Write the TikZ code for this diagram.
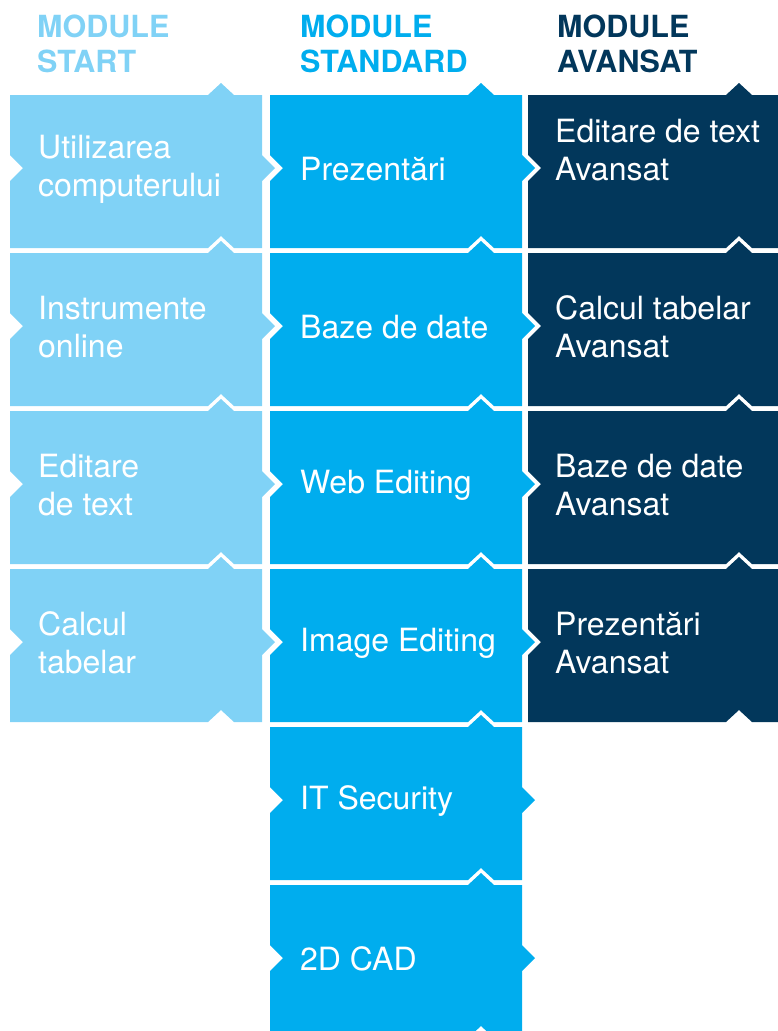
\documentclass[tikz,border=0pt]{standalone}
\usepackage{fontspec}
\setmainfont{TeX Gyre Heros}

\definecolor{startblue}{HTML}{80D2F6}
\definecolor{stdblue}{HTML}{00ADEE}
\definecolor{advblue}{HTML}{02375B}

% one puzzle piece: left, top, colour
\newcommand{\piece}[3]{%
  \fill[#3] (#1,#2) -- ++(198,0) -- ++(13,-12) -- ++(13,12) -- ++(28,0)
    -- ++(0,60) -- ++(13,13) -- ++(-13,13) -- ++(0,67)
    -- ++(-28,0) -- ++(-13,-12) -- ++(-13,12) -- ++(-198,0)
    -- ++(0,-67) -- ++(13,-13) -- ++(-13,-13) -- cycle;}

\begin{document}
\begin{tikzpicture}[x=1pt,y=-1pt,
  hdr/.style={anchor=north west, inner sep=0pt, align=left,
    font=\fontsize{30.5}{35}\selectfont\bfseries},
  lbl/.style={anchor=west, inner sep=0pt, align=left, text=white,
    font=\fontsize{32}{38}\selectfont}]
\useasboundingbox (0,0) rectangle (778,1031);
\clip (0,0) rectangle (778,1031);

% columns
\foreach \t in {95,253,411,569} \piece{10}{\t}{startblue};
\foreach \t in {95,253,411,569,727,885} \piece{270}{\t}{stdblue};
\foreach \t in {95,253,411,569} \piece{528}{\t}{advblue};

% headings
\node[hdr, text=startblue] (hstart) at (37,15) {MODULE\\START};
\node[hdr, text=stdblue]   (hstd)   at (300,15) {MODULE\\STANDARD};
\node[hdr, text=advblue]   (hadv)   at (557,15) {MODULE\\AVANSAT};

% module start
\node[lbl] (util)  at (38,169) {Utilizarea\\computerului};
\node[lbl] (instr) at (38,327) {Instrumente\\online};
\node[lbl] (edit)  at (38,485) {Editare\\de text};
\node[lbl] (calc)  at (38,643) {Calcul\\tabelar};

% module standard
\node[lbl] (prez)  at (300,169) {Prezentări};
\node[lbl] (baze)  at (300,327) {Baze de date};
\node[lbl] (web)   at (300,485) {Web Editing};
\node[lbl] (image) at (300,643) {Image Editing};
\node[lbl] (itsec) at (300,801) {IT Security};
\node[lbl] (cad)   at (300,959) {2D CAD};

% module avansat
\node[lbl] (editav)  at (555,150) {Editare de text\\Avansat};
\node[lbl] (calcav)  at (555,327) {Calcul tabelar\\Avansat};
\node[lbl] (bazeav)  at (555,485) {Baze de date\\Avansat};
\node[lbl] (prezav)  at (555,643) {Prezentări\\Avansat};
\end{tikzpicture}
\end{document}
